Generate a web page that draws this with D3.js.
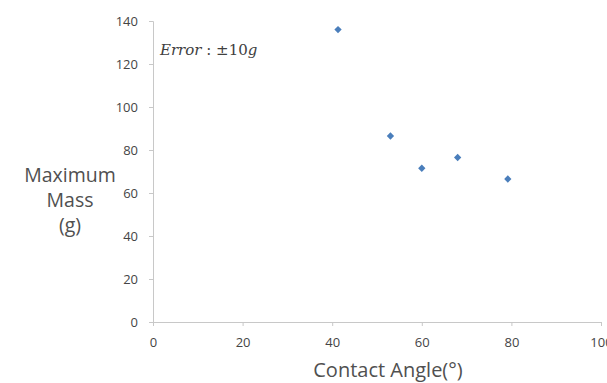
<!DOCTYPE html>
<html>
<head>
<meta charset="utf-8">
<title>Maximum Mass vs Contact Angle</title>
<script src="https://cdn.jsdelivr.net/npm/d3@7"></script>
<style>
  body { margin: 0; background: #fff; }
  svg { display: block; }
</style>
</head>
<body>
<div id="chart"></div>
<script>
// contact angle (deg) vs maximum mass (g)
var contactAngle = [41.3, 53, 60, 68, 79.2];
var maxMass = [136, 86.5, 71.5, 76.5, 66.5];
var xTicks = [0, 20, 40, 60, 80, 100];
var yTicks = [0, 20, 40, 60, 80, 100, 120, 140];

function drawChart() {
    var width = 607, height = 383;
    var svg = d3.select("#chart").append("svg")
        .attr("width", width)
        .attr("height", height);

    var x = d3.scaleLinear().domain([0, 100]).range([153, 601]);
    var y = d3.scaleLinear().domain([0, 140]).range([322, 21]);

    var axisColor = "#c8c8c8";
    var labelColor = "#454545";
    var font = "'Open Sans', 'Noto Sans', sans-serif";

    var xAxis = svg.append("g")
        .attr("transform", "translate(0," + y(0) + ")")
        .call(d3.axisBottom(x).tickValues(xTicks).tickSize(4).tickPadding(12));
    var yAxis = svg.append("g")
        .attr("transform", "translate(" + x(0) + ",0)")
        .call(d3.axisLeft(y).tickValues(yTicks).tickSize(4).tickPadding(11));

    [xAxis, yAxis].forEach(function(ax) {
        ax.select(".domain").attr("stroke", axisColor);
        ax.selectAll(".tick line").attr("stroke", axisColor);
        ax.selectAll(".tick text")
            .attr("fill", labelColor)
            .style("font-family", font)
            .style("font-size", "13px");
    });

    svg.selectAll(".pt")
        .data(contactAngle)
        .enter().append("path")
        .attr("class", "pt")
        .attr("d", d3.symbol().type(d3.symbolDiamond2).size(34))
        .attr("transform", function(d, i) {
            return "translate(" + x(d) + "," + y(maxMass[i]) + ")";
        })
        .attr("fill", "#4a7ebb");

    svg.append("text")
        .attr("x", 388).attr("y", 377)
        .attr("text-anchor", "middle")
        .attr("fill", "#505050")
        .style("font-family", font)
        .style("font-size", "20px")
        .text("Contact Angle(°)");

    var yTitle = svg.append("text")
        .attr("text-anchor", "middle")
        .attr("fill", "#505050")
        .style("font-family", font)
        .style("font-size", "19.5px");
    ["Maximum", "Mass", "(g)"].forEach(function(s, i) {
        yTitle.append("tspan").attr("x", 70).attr("y", 182 + i * 25).text(s);
    });

    var note = svg.append("text")
        .attr("x", 160).attr("y", 55)
        .attr("fill", "#404040")
        .style("font-family", "'DejaVu Serif', 'Liberation Serif', serif")
        .style("font-size", "15px");
    note.append("tspan").style("font-style", "italic").text("Error");
    note.append("tspan").text(" :  ±10");
    note.append("tspan").style("font-style", "italic").text("g");
}

drawChart();
</script>
</body>
</html>
